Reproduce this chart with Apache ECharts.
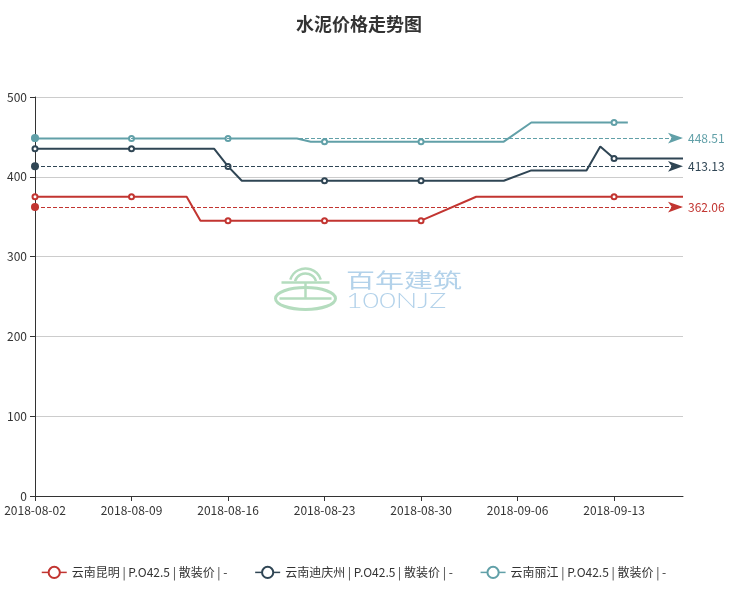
<!DOCTYPE html>
<html>
<head>
<meta charset="utf-8">
<script src="https://cdn.jsdelivr.net/npm/echarts@6/dist/echarts.min.js"></script>
<style>html,body{margin:0;padding:0;background:#fff}#c{width:744px;height:592px}</style>
</head>
<body>
<div id="c"></div>
<script>
var titleText = '水泥价格走势图';
var dates = [
 '2018-08-02','2018-08-03','2018-08-04','2018-08-05','2018-08-06','2018-08-07','2018-08-08',
 '2018-08-09','2018-08-10','2018-08-11','2018-08-12','2018-08-13','2018-08-14','2018-08-15',
 '2018-08-16','2018-08-17','2018-08-18','2018-08-19','2018-08-20','2018-08-21','2018-08-22',
 '2018-08-23','2018-08-24','2018-08-25','2018-08-26','2018-08-27','2018-08-28','2018-08-29',
 '2018-08-30','2018-08-31','2018-09-01','2018-09-02','2018-09-03','2018-09-04','2018-09-05',
 '2018-09-06','2018-09-07','2018-09-08','2018-09-09','2018-09-10','2018-09-11','2018-09-12',
 '2018-09-13','2018-09-14','2018-09-15','2018-09-16','2018-09-17','2018-09-18'
];
var seriesNames = ['云南昆明 | P.O42.5 | 散装价 | -', '云南迪庆州 | P.O42.5 | 散装价 | -', '云南丽江 | P.O42.5 | 散装价 | -'];
var kunming = [
 375,375,375,375,375,375,375,
 375,375,375,375,375,345,345,
 345,345,345,345,345,345,345,
 345,345,345,345,345,345,345,
 345,null,null,null,375,375,375,
 null,375,375,375,375,375,375,
 375,375,375,375,375,375
];
var diqing = [
 435,435,435,435,435,435,435,
 435,435,435,435,435,435,435,
 413,395,395,395,395,395,395,
 395,395,395,395,395,395,395,
 395,395,395,395,395,395,395,
 null,408,408,408,408,408,438,
 423,423,423,423,423,423
];
var lijiang = [
 448,448,448,448,448,448,448,
 448,448,448,448,448,448,448,
 448,448,448,448,448,448,444,
 444,444,444,444,444,444,444,
 444,444,444,444,444,444,444,
 null,468,468,468,468,468,468,
 468,468,null,null,null,null
];
var averages = [362.06, 413.13, 448.51];
var colors = ['#c23531', '#2f4554', '#61a0a8'];
var yTicks = [0, 500, 100];

var chart = echarts.init(document.getElementById('c'), null, {renderer: 'canvas'});
var font = '"Noto Sans CJK SC", "Noto Sans", sans-serif';
var values = [kunming, diqing, lijiang];
var series = values.map(function (v, i) {
  return {
    name: seriesNames[i],
    type: 'line',
    data: v,
    symbol: 'emptyCircle',
    symbolSize: 5,
    showAllSymbol: false,
    connectNulls: true,
    color: colors[i],
    lineStyle: {width: 2, color: colors[i]},
    itemStyle: {color: colors[i], borderWidth: 1},
    emphasis: {disabled: true},
    markLine: {
      silent: true,
      animation: false,
      symbol: ['circle', 'arrow'],
      symbolSize: [8, 15],
      lineStyle: {type: 'dashed', width: 1, color: colors[i]},
      label: {show: true, position: 'end', color: colors[i], fontSize: 12, fontFamily: font,
        formatter: function () { return averages[i].toFixed(2); }},
      data: [{yAxis: averages[i]}]
    }
  };
});

chart.setOption({
  animation: false,
  backgroundColor: '#fff',
  textStyle: {fontFamily: font},
  title: {
    text: titleText, left: 291, top: 10,
    textStyle: {fontSize: 18, fontWeight: 'bold', color: '#333', fontFamily: font}
  },
  legend: {
    left: 36, bottom: 8, itemGap: 27, itemWidth: 25, itemHeight: 14,
    itemStyle: {borderWidth: 1},
    lineStyle: {width: 1.5},
    textStyle: {color: '#333', fontSize: 12, fontFamily: font},
    data: seriesNames
  },
  grid: {left: 35, right: 61, top: 97, bottom: 96, containLabel: false},
  xAxis: {
    type: 'category', boundaryGap: false, data: dates,
    axisLine: {lineStyle: {color: '#333'}},
    axisTick: {show: true, interval: 6, length: 5, lineStyle: {color: '#333'}},
    axisLabel: {interval: 6, color: '#333', fontSize: 12, margin: 8, fontFamily: font},
    splitLine: {show: false}
  },
  yAxis: {
    type: 'value', min: yTicks[0], max: yTicks[1], interval: yTicks[2],
    axisLine: {show: true, lineStyle: {color: '#333'}},
    axisTick: {show: true, length: 5, lineStyle: {color: '#333'}},
    axisLabel: {color: '#333', fontSize: 12, margin: 8, fontFamily: font},
    splitLine: {show: true, lineStyle: {color: '#ccc', width: 1}}
  },
  graphic: [
    {type: 'group', left: 273, top: 266, silent: true, z: -1, children: [
      {type: 'arc', shape: {cx: 32, cy: 16, r: 16, startAngle: Math.PI * 1.1, endAngle: Math.PI * 1.9}, style: {stroke: '#b4dcbe', lineWidth: 2.5, fill: null}},
      {type: 'arc', shape: {cx: 32, cy: 16, r: 11, startAngle: Math.PI * 1.1, endAngle: Math.PI * 1.9}, style: {stroke: '#b4dcbe', lineWidth: 2.5, fill: null}},
      {type: 'line', shape: {x1: 8, y1: 14, x2: 56, y2: 14}, style: {stroke: '#b4dcbe', lineWidth: 2.5}},
      {type: 'ellipse', shape: {cx: 32, cy: 30, rx: 30, ry: 11}, style: {stroke: '#b4dcbe', lineWidth: 3, fill: null}},
      {type: 'line', shape: {x1: 6, y1: 30, x2: 58, y2: 30}, style: {stroke: '#b4dcbe', lineWidth: 2.5}},
      {type: 'line', shape: {x1: 32, y1: 14, x2: 32, y2: 30}, style: {stroke: '#b4dcbe', lineWidth: 2.5}}
    ]},
    {type: 'text', left: 346, top: 270, silent: true, z: -1, scaleX: 1.45,
      style: {text: '百年建筑', fill: '#b3d2ea', font: '20px "Noto Sans CJK SC"'}},
    {type: 'text', left: 346, top: 290, silent: true, z: -1, scaleX: 1.3,
      style: {text: '100NJZ', fill: '#b3d2ea', font: '300 22px "Lato"'}}
  ],
  series: series
});
</script>
</body>
</html>
